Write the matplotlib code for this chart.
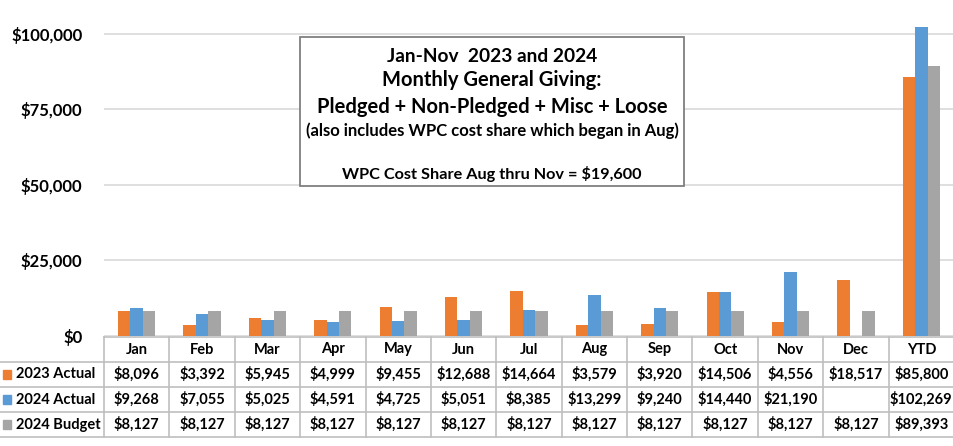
import matplotlib.pyplot as plt
from matplotlib.ticker import FuncFormatter
import numpy as np

plt.rcParams['font.family'] = ['Lato', 'DejaVu Sans']

months = ['Jan', 'Feb', 'Mar', 'Apr', 'May', 'Jun', 'Jul', 'Aug', 'Sep', 'Oct', 'Nov', 'Dec', 'YTD']
series_names = ['2023 Actual', '2024 Actual', '2024 Budget']
actual_2023 = [8096, 3392, 5945, 4999, 9455, 12688, 14664, 3579, 3920, 14506, 4556, 18517, 85800]
actual_2024 = [9268, 7055, 5025, 4591, 4725, 5051, 8385, 13299, 9240, 14440, 21190, None, 102269]
budget_2024 = [8127, 8127, 8127, 8127, 8127, 8127, 8127, 8127, 8127, 8127, 8127, 8127, 89393]
colors = ['#ED7D31', '#5B9BD5', '#A5A5A5']

W, H = 954, 446
fig = plt.figure(figsize=(W / 100, H / 100), dpi=100)

# pixel layout
left_px, zero_px = 104, 335.5
ax = fig.add_axes([left_px / W, 1 - zero_px / H, 1 - left_px / W, zero_px / H])

x = np.arange(len(months))
bw = 0.19
for i, (vals, c) in enumerate(zip([actual_2023, actual_2024, budget_2024], colors)):
    v = [np.nan if a is None else a for a in vals]
    ax.bar(x + (i - 1) * bw, v, width=bw, color=c, zorder=3)

ax.set_xlim(-0.5, len(months) - 0.5)
ax.set_ylim(0, 111300)
ax.set_yticks([0, 25000, 50000, 75000, 100000])
ax.yaxis.set_major_formatter(FuncFormatter(lambda v, p: f'${v:,.0f}'))
for lab in ax.get_yticklabels():
    lab.set_fontweight('bold')
    lab.set_fontsize(12)
ax.tick_params(axis='y', length=0, pad=15.5)
ax.tick_params(axis='x', length=0, labelbottom=False)
ax.grid(axis='y', color='#D9D9D9', linewidth=1.2, zorder=0)
for s in ['top', 'right', 'left', 'bottom']:
    ax.spines[s].set_visible(False)

# text box
box_l, box_t, box_r, box_b = 300, 37, 684, 186
fig.patches.append(plt.Rectangle((box_l / W, 1 - box_b / H), (box_r - box_l) / W, (box_b - box_t) / H,
                                 transform=fig.transFigure, facecolor='white', edgecolor='#7F7F7F',
                                 linewidth=1.3, zorder=5))
cx = (box_l + box_r) / 2 / W
lines = [('Jan-Nov  2023 and 2024', 13.8, 56), ('Monthly General Giving:', 14.5, 80),
         ('Pledged + Non-Pledged + Misc + Loose', 14.5, 107), ('(also includes WPC cost share which began in Aug)', 12, 131),
         ('WPC Cost Share Aug thru Nov = $19,600', 11.7, 174)]
for t, fs, py in lines:
    fig.text(cx, 1 - py / H, t, ha='center', va='center', fontsize=fs, fontweight='bold', zorder=6)

# data table
tax = fig.add_axes([0, 1 - 437 / H, 1, (437 - 337) / H])
span = (len(months)) / (W - left_px)
tax.set_xlim(-0.5 - left_px * span, len(months) - 0.5)
tax.set_ylim(4, 0)
tax.axis('off')
lc = '#BFBFBF'
xl = -0.5 - left_px * span
tax.plot([-0.5, len(months) - 0.5], [0, 0], color=lc, lw=1.2, clip_on=False)
for r in range(1, 5):
    tax.plot([xl, len(months) - 0.5], [r, r], color=lc, lw=1.2, clip_on=False)
for b in np.arange(-0.5, len(months) + 0.5, 1.0):
    tax.plot([b, b], [0, 4], color=lc, lw=1.2, clip_on=False)
for j, m in enumerate(months):
    tax.text(j, 0.5, m, ha='center', va='center', fontsize=10.5, fontweight='bold')
for r, (name, vals, c) in enumerate(zip(series_names, [actual_2023, actual_2024, budget_2024], colors), start=1):
    tax.text(xl + 16 * span, r + 0.5, name, ha='left', va='center', fontsize=10.5, fontweight='bold')
    tax.add_patch(plt.Rectangle((xl + 3 * span, r + 0.5 - 0.17), 8 * span, 0.34, color=c, clip_on=False))
    for j, v in enumerate(vals):
        if v is not None:
            tax.text(j, r + 0.5, f'${v:,}', ha='center', va='center', fontsize=10.5, fontweight='bold')

fig.savefig('out.png', dpi=100)
